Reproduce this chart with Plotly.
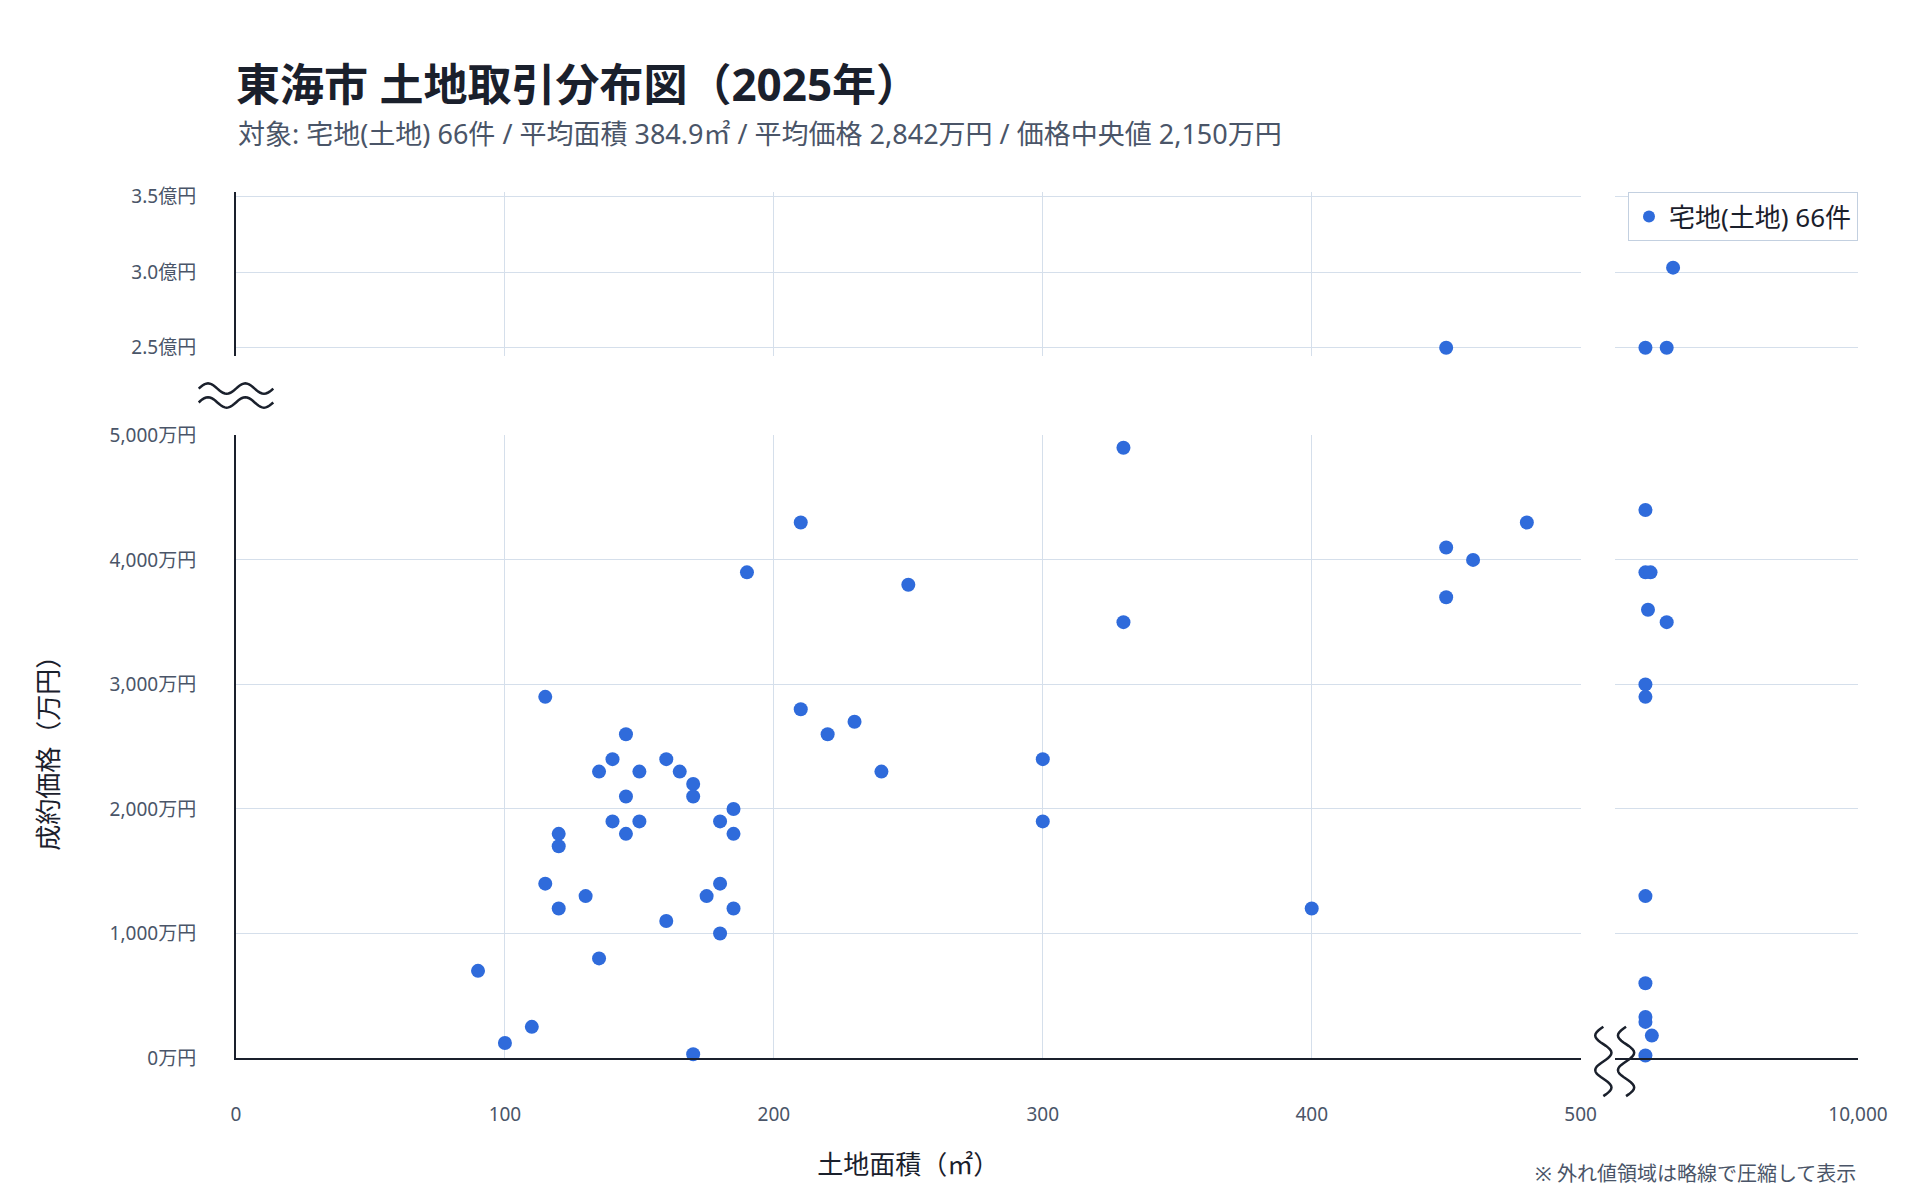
import numpy as np
import plotly.graph_objects as go

area = [90,100,110,115,115,120,120,120,130,135,135,140,140,145,145,145,150,150,160,160,165,170,170,170,175,180,180,180,185,185,185,190,210,210,220,230,240,250,300,300,330,330,400,450,450,460,480,
        1700,1700,1900,1800,2530,1700,1700,1700,1700,1700,1700,1950,1700,
        450,1700,2530,2780]
price = [700,120,250,2900,1400,1800,1700,1200,1300,2300,800,2400,1900,2600,2100,1800,2300,1900,2400,1100,2300,2200,2100,30,1300,1900,1400,1000,2000,1800,1200,3900,4300,2800,2600,2700,2300,3800,2400,1900,4900,3500,1200,4100,3700,4000,4300,
         4400,3900,3900,3600,3500,3000,2900,1300,600,330,290,180,20,
         25000,25000,25000,30300]

X_MAIN = [0, 500]; X_OUT = [500, 10000]
Y_MAIN = [0, 5000]; Y_OUT = [24480, 35300]
y_main_ticks = [0,1000,2000,3000,4000,5000]
y_main_text = ["0万円","1,000万円","2,000万円","3,000万円","4,000万円","5,000万円"]
y_out_ticks = [25000,30000,35000]
y_out_text = ["2.5億円","3.0億円","3.5億円"]
x_main_ticks = [0,100,200,300,400,500]
x_main_text = ["0","100","200","300","400","500"]

a = np.array(area); p = np.array(price)
BLUE = "#2f6bdb"; GRID = "#d5dfeb"; AX = "#1a202c"; TXT = "#4a5568"
FONT = "Noto Sans, Noto Sans CJK JP"

fig = go.Figure()
combos = [("x","y", (a<=500)&(p<=5000)), ("x2","y", (a>500)&(p<=5000)),
          ("x","y2", (a<=500)&(p>5000)), ("x2","y2", (a>500)&(p>5000))]
for i,(xa,ya,m) in enumerate(combos):
    fig.add_trace(go.Scatter(x=a[m], y=p[m], xaxis=xa, yaxis=ya, mode="markers",
        marker=dict(size=14, color=BLUE), name="宅地(土地) 66件", legendgroup="g",
        showlegend=(i==0), cliponaxis=False))

tick = dict(color=TXT, size=19, family=FONT)
common = dict(showgrid=True, gridcolor=GRID, zeroline=False, tickfont=tick, ticks="")
fig.update_layout(
    width=1920, height=1200, paper_bgcolor="white", plot_bgcolor="white",
    font=dict(family=FONT, color=AX),
    margin=dict(l=228, r=70, t=184, b=150),
    title=dict(text="<b>東海市 土地取引分布図（2025年）</b>", x=0, xref="paper",
               yref="container", y=1-78/1200, yanchor="middle", font=dict(size=44, color=AX, family=FONT)),
    xaxis=dict(domain=[0,0.829], range=X_MAIN, tickvals=x_main_ticks, ticktext=x_main_text, anchor="y",
               showline=True, linecolor=AX, linewidth=2, ticklabelstandoff=38,
               title=dict(text="土地面積（㎡）", font=dict(size=26, color=AX), standoff=30), **common),
    xaxis2=dict(domain=[0.85,1], range=X_OUT, tickvals=[10000], ticktext=["10,000"], anchor="y",
                showline=True, linecolor=AX, linewidth=2, ticklabelstandoff=38, **{**common, "showgrid": False}),
    yaxis=dict(domain=[0,0.719], range=Y_MAIN, tickvals=y_main_ticks, ticktext=y_main_text, anchor="x",
               showline=True, linecolor=AX, linewidth=2, ticklabelstandoff=34,
               title=dict(text="成約価格（万円）", font=dict(size=26, color=AX), standoff=44), **common),
    yaxis2=dict(domain=[0.811,1], range=Y_OUT, tickvals=y_out_ticks, ticktext=y_out_text, anchor="x",
                showline=True, linecolor=AX, linewidth=2, ticklabelstandoff=34, **common),
    legend=dict(x=1, xanchor="right", y=1, yanchor="top", bordercolor="#c3d0e0", borderwidth=1,
                bgcolor="white", font=dict(size=26, color=AX, family=FONT), itemsizing="constant"),
)

def wave_h(cx, cy, w, amp):
    t = np.linspace(-1, 1, 41)
    pts = [(cx + w*tt, cy + amp*np.sin(tt*2*np.pi)) for tt in t]
    return "M " + " L ".join(f"{x:.5f},{y:.5f}" for x,y in pts)
def wave_v(cx, cy, h, amp):
    t = np.linspace(-1, 1, 41)
    pts = [(cx + amp*np.sin(tt*2*np.pi), cy + h*tt) for tt in t]
    return "M " + " L ".join(f"{x:.5f},{y:.5f}" for x,y in pts)
shapes = []
for dy in (0.008, -0.008):
    shapes.append(dict(type="path", xref="paper", yref="paper", path=wave_h(0.0, 0.765+dy, 0.023, 0.006),
                       line=dict(color=AX, width=2.5)))
for dx in (-0.007, 0.007):
    shapes.append(dict(type="path", xref="paper", yref="paper", path=wave_v(0.85+dx, -0.004, 0.04, 0.005),
                       line=dict(color=AX, width=2.5)))
fig.update_layout(shapes=shapes)
fig.add_annotation(text="対象: 宅地(土地) 66件 / 平均面積 384.9㎡ / 平均価格 2,842万円 / 価格中央値 2,150万円",
                   xref="paper", yref="paper", x=0, y=1+(184-126)/866, xanchor="left", yanchor="middle",
                   showarrow=False, font=dict(size=27, color=TXT, family=FONT))
fig.add_annotation(text="※ 外れ値領域は略線で圧縮して表示", xref="paper", yref="paper", x=1, y=-0.133,
                   xanchor="right", yanchor="middle", showarrow=False, font=dict(size=20, color=TXT, family=FONT))
fig.write_html("out.html")
